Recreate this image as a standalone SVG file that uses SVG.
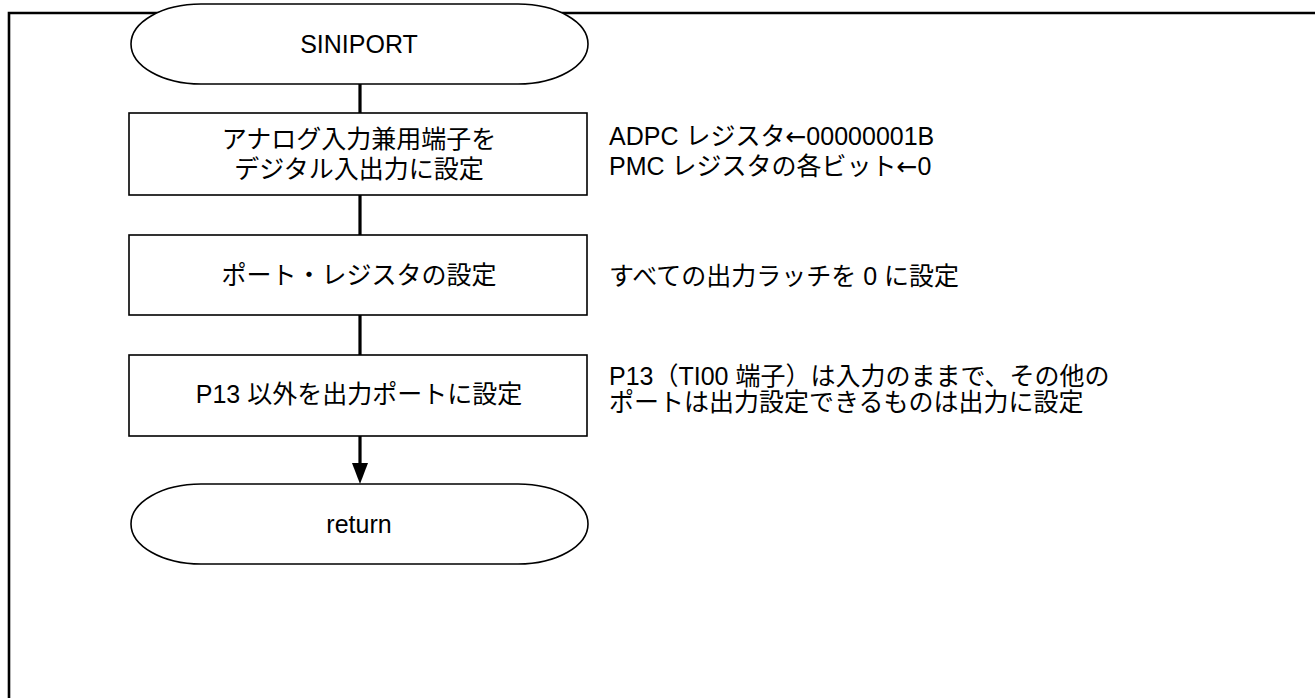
<svg xmlns="http://www.w3.org/2000/svg" width="1315" height="698" viewBox="0 0 1315 698">
<style>
.frame{fill:none;stroke:#000;stroke-width:2.6}
.term{fill:#fff;stroke:#000;stroke-width:1.6}
.box{fill:#fff;stroke:#000;stroke-width:1.6}
.conn{fill:none;stroke:#000;stroke-width:3.2}
text{font-family:"Liberation Sans","Noto Sans CJK JP",Arial,sans-serif;font-size:25px;fill:#000}
.c{text-anchor:middle}
.a{font-family:"DejaVu Sans",sans-serif}
</style>
<rect x="0" y="0" width="1315" height="698" fill="#fff"/>
<g id="frame">
<path class="frame" d="M9,698 V13 H1315"/>
</g>
<g id="connectors">
<line class="conn" x1="360" y1="84" x2="360" y2="113"/>
<line class="conn" x1="360" y1="195" x2="360" y2="235"/>
<line class="conn" x1="360" y1="315" x2="360" y2="355"/>
<line class="conn" x1="360" y1="436" x2="360" y2="465"/>
<path d="M352,463 L368,463 L360,484 Z" fill="#000"/>
</g>
<g id="start">
<rect class="term" x="131" y="4" width="457" height="80" rx="70" ry="40"/>
<text class="c" x="359" y="53">SINIPORT</text>
</g>
<g id="step1">
<rect class="box" x="129" y="113" width="458" height="82"/>
<text class="c" x="359" y="148">アナログ入力兼用端子を</text>
<text class="c" x="359" y="178">デジタル入出力に設定</text>
</g>
<g id="step2">
<rect class="box" x="129" y="235" width="458" height="80"/>
<text class="c" x="359" y="284">ポート・レジスタの設定</text>
</g>
<g id="step3">
<rect class="box" x="129" y="355" width="458" height="81"/>
<text class="c" x="359" y="403">P13 以外を出力ポートに設定</text>
</g>
<g id="end">
<rect class="term" x="131" y="484" width="457" height="80" rx="70" ry="40"/>
<text class="c" x="359" y="533">return</text>
</g>
<g id="notes">
<text x="609" y="145">ADPC レジスタ<tspan class="a">←</tspan>00000001B</text>
<text x="609" y="175">PMC レジスタの各ビット<tspan class="a">←</tspan>0</text>
<text x="609" y="285">すべての出力ラッチを 0 に設定</text>
<text x="609" y="385">P13（TI00 端子）は入力のままで、その他の</text>
<text x="609" y="411">ポートは出力設定できるものは出力に設定</text>
</g>
</svg>
